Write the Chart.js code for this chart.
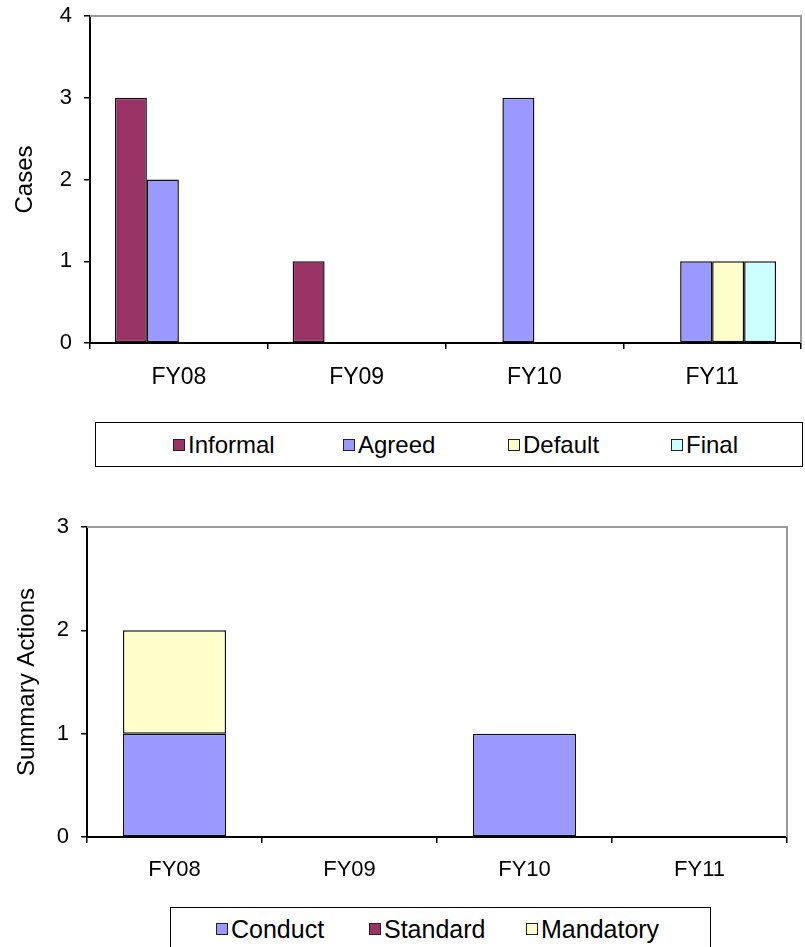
<!DOCTYPE html>
<html>
<head>
<meta charset="utf-8">
<script src="https://cdn.jsdelivr.net/npm/chart.js@4"></script>
<style>
  body { margin: 0; background: #fff; width: 805px; height: 947px; position: relative; overflow: hidden; font-family: "Liberation Sans", Arial, sans-serif; }
  .wrap { position: absolute; left: 0; width: 805px; }
  .legend { position: absolute; border: 1.5px solid #000; box-sizing: border-box; color: #000; }
  .legend .item { position: absolute; top: 0; bottom: 0; display: flex; align-items: center; white-space: nowrap; }
  .legend .sw { width: 10px; height: 10px; border: 1.5px solid #222; margin-right: 3px; }
</style>
</head>
<body>
<div class="wrap" style="top:0;height:400px"><canvas id="casesChart"></canvas></div>
<div class="legend" id="casesLegend" style="left:95px;top:422px;width:708px;height:45px;font-size:24px"></div>
<div class="wrap" style="top:480px;height:420px"><canvas id="summaryChart"></canvas></div>
<div class="legend" id="summaryLegend" style="left:170px;top:907px;width:541px;height:44px;font-size:25px"></div>
<script>
// fiscal years
const years = ['FY08', 'FY09', 'FY10', 'FY11'];

// top chart - cases by type
const caseTypes = ['Informal', 'Agreed', 'Default', 'Final'];
const informal = [3, 1, 0, 0];
const agreed = [2, 0, 3, 1];
const defaultCases = [0, 0, 0, 1];
const finalCases = [0, 0, 0, 1];
const caseColors = ['#993366', '#9999FF', '#FFFFCC', '#CCFFFF'];
const caseTicks = [0, 1, 2, 3, 4];

// bottom chart - summary actions (stacked)
const actionTypes = ['Conduct', 'Standard', 'Mandatory'];
const conduct = [1, 0, 1, 0];
const standard = [0, 0, 0, 0];
const mandatory = [1, 0, 0, 0];
const actionColors = ['#9999FF', '#993366', '#FFFFCC'];
const actionTicks = [0, 1, 2, 3];

// grey frame on top and right of plot area, like the excel original
const framePlugin = {
    id: 'frame',
    beforeDatasetsDraw(chart) {
        const { ctx, chartArea: a } = chart;
        ctx.save();
        ctx.strokeStyle = '#999';
        ctx.lineWidth = 2;
        ctx.beginPath();
        ctx.moveTo(a.left, a.top);
        ctx.lineTo(a.right, a.top);
        ctx.lineTo(a.right, a.bottom);
        ctx.stroke();
        ctx.restore();
    }
};

function axisOptions(opts) {
    return {
        x: {
            stacked: opts.stacked,
            offset: true,
            grid: { offset: true, drawOnChartArea: false, drawTicks: true, tickLength: 6, color: '#000', lineWidth: 1.5 },
            border: { color: '#000', width: 2 },
            ticks: { color: '#000', padding: opts.xPad, font: { family: opts.xFamily, size: opts.xSize } },
            afterFit(scale) { scale.height = opts.xHeight; }
        },
        y: {
            stacked: opts.stacked,
            min: 0,
            max: opts.ticks[opts.ticks.length - 1],
            afterBuildTicks(scale) { scale.ticks = opts.ticks.map(v => ({ value: v })); },
            grid: { drawOnChartArea: false, drawTicks: true, tickLength: 6, color: '#000', lineWidth: 1.5 },
            border: { color: '#000', width: 2 },
            ticks: { color: '#000', padding: 12, font: { family: 'Liberation Sans', size: 22 } },
            title: {
                display: true,
                text: opts.title,
                color: '#000',
                font: { family: 'Liberation Sans', size: 24 },
                padding: { top: opts.titlePad, bottom: 0 }
            },
            afterFit(scale) {
                scale.width = opts.yWidth;
                // plot area is placed by layout padding alone
                scale.paddingTop = 0;
                scale.paddingBottom = 0;
            }
        }
    };
}

function makeDatasets(labels, series, colors) {
    return labels.map((label, i) => ({
        label: label,
        data: series[i],
        backgroundColor: colors[i],
        borderColor: '#111',
        borderWidth: 1.5,
        borderSkipped: false
    }));
}

function buildLegend(id, labels, colors, positions) {
    const el = document.getElementById(id);
    el.innerHTML = labels.map((l, i) => `
        <div class="item" style="left:${positions[i]}px">
            <div class="sw" style="background:${colors[i]}"></div>
            <span class="txt">${l}</span>
        </div>`).join('');
}

const casesChart = new Chart(document.getElementById('casesChart'), {
    type: 'bar',
    data: {
        labels: years,
        datasets: makeDatasets(caseTypes, [informal, agreed, defaultCases, finalCases], caseColors)
    },
    options: {
        responsive: true,
        maintainAspectRatio: false,
        animation: false,
        categoryPercentage: 0.72,
        barPercentage: 1,
        layout: { padding: { top: 16, right: 4, left: 0, bottom: 0 } },
        plugins: { legend: { display: false }, tooltip: { enabled: false } },
        scales: axisOptions({
            stacked: false, ticks: caseTicks, title: 'Cases', titlePad: 11,
            yWidth: 90, xHeight: 57, xPad: 15, xFamily: 'Liberation Sans', xSize: 23
        })
    },
    plugins: [framePlugin]
});

const summaryChart = new Chart(document.getElementById('summaryChart'), {
    type: 'bar',
    data: {
        labels: years,
        datasets: makeDatasets(actionTypes, [conduct, standard, mandatory], actionColors)
    },
    options: {
        responsive: true,
        maintainAspectRatio: false,
        animation: false,
        categoryPercentage: 0.59,
        barPercentage: 1,
        layout: { padding: { top: 47, right: 18, left: 0, bottom: 0 } },
        plugins: { legend: { display: false }, tooltip: { enabled: false } },
        scales: axisOptions({
            stacked: true, ticks: actionTicks, title: 'Summary Actions', titlePad: 13,
            yWidth: 87, xHeight: 63, xPad: 14, xFamily: 'Liberation Sans', xSize: 22
        })
    },
    plugins: [framePlugin]
});

buildLegend('casesLegend', caseTypes, caseColors, [77, 247, 412, 575]);
buildLegend('summaryLegend', actionTypes, actionColors, [45, 198, 355]);
</script>
</body>
</html>
